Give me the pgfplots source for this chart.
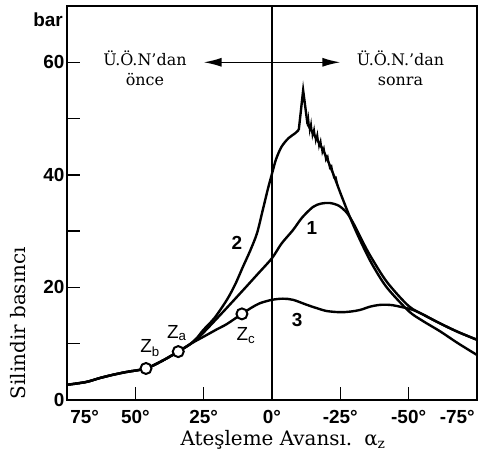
\documentclass[border=0pt]{standalone}
\usepackage{pgfplots}
\pgfplotsset{compat=1.18}
\usetikzlibrary{arrows.meta}
\usepackage{fontspec}
\setmainfont{DejaVu Serif}
\newfontfamily\labelsans{Liberation Sans}

% shared low-pressure branch of all three curves
\newcommand{\commonpart}{(75,2.7) (68,3.2) (63,3.9) (58,4.5) (53,5.0) (46.1,5.6) (40,7.0) (34.3,8.6) (30,9.9)}

\begin{document}
\begin{tikzpicture}
\path[use as bounding box] (-67bp,-65bp) rectangle (412bp,400bp);
\begin{axis}[
  scale only axis, width=410bp, height=394bp,
  x dir=reverse, xmin=-75, xmax=75, ymin=0, ymax=70,
  clip mode=individual,
  axis line style={line width=1.6pt},
  tick pos=left, tick align=inside,
  xtick={50,25,0,-25,-50},
  xticklabels={50°,25°,0°,-25°,-50°},
  ytick={0,20,40,60}, minor ytick={10,30,50},
  yticklabels={0,20,40,60},
  major tick length=13bp, minor tick length=13bp,
  every tick/.style={line width=1.4pt, black},
  tick label style={font=\labelsans\bfseries\fontsize{19}{19}\selectfont},
  xticklabel style={anchor=center, yshift=-17bp},
  yticklabel style={xshift=1bp},
  xlabel={Ateşleme Avansı.\hspace{12bp}α\textsubscript{z}},
  ylabel={Silindir basıncı},
  xlabel style={at={(axis description cs:0.527,-0.1015)}, anchor=center,
    font=\fontsize{20}{22}\selectfont},
  ylabel style={at={(axis description cs:-0.1195,0.195)}, anchor=center,
    font=\fontsize{20}{22}\selectfont},
]
% top dead centre
\addplot[black, line width=1.6pt] coordinates {(0,0) (0,70)};
% before / after TDC arrow
\addplot[black, line width=1.4pt,
  {Latex[length=18bp,width=9bp]}-{Latex[length=18bp,width=9bp]}]
  coordinates {(25,60) (-25,60)};

% curve 2 (knocking)
\addplot[black, line width=2.4pt, smooth] coordinates {
  \commonpart (27.5,11.0) (25.2,12.4) (21,14.6) (16.5,17.8) (13.5,20.5)
  (10.6,23.7) (8,26.5) (5.5,29.6) (3.5,33.5) (1.5,37.5) (0,40.2)
  (-1.5,42.8) (-3.5,45.0) (-6,46.5) (-8.5,47.4) (-9.8,48.0)};
\addplot[black, line width=2.4pt] coordinates {(-9.8,48.0) (-11.4,55) (-13,49)};
\addplot[black, line width=2.4pt, smooth] coordinates {
  (-13,49) (-15,47.4) (-18.7,44.4) (-22.3,40.3) (-25,36.8) (-28.5,32.5)
  (-31,29.7) (-34,26.6) (-37,23.8) (-42,20.0) (-50,15.8) (-55,14.1)
  (-61.5,12.2) (-68,10.1) (-75,8)};
\addplot[black, line width=1.5pt] coordinates {
  (-13,49) (-13.3,50.2) (-13.8,47.8) (-14.3,49.2) (-14.8,46.9) (-15.4,48.2)
  (-16,46.0) (-16.6,47.3) (-17.2,45.0) (-17.8,46.1) (-18.4,43.9) (-19,44.8)
  (-19.7,42.6) (-20.4,43.3) (-21.1,41.2) (-21.8,41.6) (-22.6,39.5)
  (-23.4,39.6) (-24,38.2)};

% curve 1
\addplot[black, line width=2.4pt, smooth] coordinates {
  \commonpart (27.5,10.9) (25.2,11.9) (18,15.6) (10.6,19.5) (5,22.5)
  (0,25.2) (-3.5,27.8) (-7.7,30.2) (-11,32.4) (-15,34.3) (-18,34.9)
  (-21.2,35.0) (-24.5,34.5) (-27.5,33.2) (-30,31.2) (-33,28.3) (-36,25.6)
  (-42,21.0) (-50,16.7) (-56,15.0) (-61.5,13.6) (-68,12.1) (-75,10.7)};

% curve 3
\addplot[black, line width=2.4pt, smooth] coordinates {
  \commonpart (27.5,10.6) (25.2,11.2) (20,12.6) (16.5,13.5) (11,15.3)
  (7.5,16.4) (4.4,17.2) (0,17.8) (-4,18.0) (-7.7,17.8) (-12.8,16.9)
  (-16.5,16.3) (-20.1,15.8) (-24.9,15.6) (-28.5,15.7) (-32.2,16.0)
  (-36,16.6) (-39.5,16.9) (-43,16.9) (-45.7,16.7) (-51.6,16.0) (-56,15.0)
  (-61.5,13.6) (-68,12.1) (-75,10.7)};

% ignition points
\addplot[only marks, mark=*, mark size=5.5bp,
  mark options={fill=white, draw=black, line width=2pt}]
  coordinates {(46.1,5.6) (34.3,8.6) (11,15.3)};

% annotations
\begin{scope}[font=\labelsans\bfseries\fontsize{19}{19}\selectfont]
  \node at (axis cs:12.8,27.9) {2};
  \node at (axis cs:-14.6,30.5) {1};
  \node at (axis cs:-9.2,14.2) {3};
\end{scope}
\begin{scope}[font=\labelsans\fontsize{19}{19}\selectfont]
  \node at (axis cs:44.6,9.2) {Z\textsubscript{b}};
  \node at (axis cs:34.8,11.9) {Z\textsubscript{a}};
  \node at (axis cs:9.5,11.4) {Z\textsubscript{c}};
\end{scope}
\node[align=center, font=\fontsize{16}{20}\selectfont]
  at (axis cs:46.5,59) {Ü.Ö.N'dan\\önce};
\node[align=center, font=\fontsize{16}{20}\selectfont]
  at (axis cs:-47,59) {Ü.Ö.N.'dan\\sonra};
\begin{scope}[font=\labelsans\bfseries\fontsize{19}{19}\selectfont]
  \node at (axis description cs:0.043,-0.043) {75°};
  \node at (axis description cs:0.952,-0.043) {-75°};
  \node at (axis description cs:-0.046,0.964) {bar};
\end{scope}
\end{axis}
\end{tikzpicture}
\end{document}
